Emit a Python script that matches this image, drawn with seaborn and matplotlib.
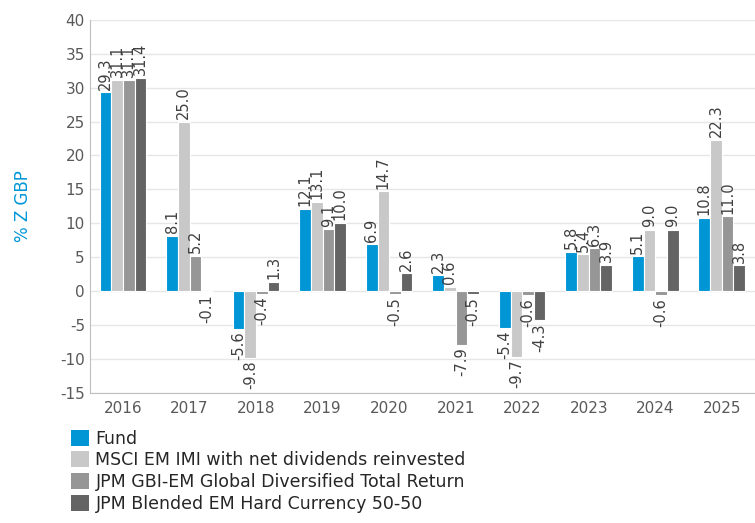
import numpy as np
import pandas as pd
import seaborn as sns
import matplotlib.pyplot as plt
from matplotlib.patches import Patch

years = ["2016", "2017", "2018", "2019", "2020", "2021", "2022", "2023", "2024", "2025"]
series_names = [
    "Fund",
    "MSCI EM IMI with net dividends reinvested",
    "JPM GBI-EM Global Diversified Total Return",
    "JPM Blended EM Hard Currency 50-50",
]
fund = [29.3, 8.1, -5.6, 12.1, 6.9, 2.3, -5.4, 5.8, 5.1, 10.8]
msci = [31.1, 25.0, -9.8, 13.1, 14.7, 0.6, -9.7, 5.4, 9.0, 22.3]
gbi = [31.1, 5.2, -0.4, 9.1, -0.5, -7.9, -0.6, 6.3, -0.6, 11.0]
blended = [31.4, -0.1, 1.3, 10.0, 2.6, -0.5, -4.3, 3.9, 9.0, 3.8]
colors = ["#0096D6", "#C8C8C8", "#969696", "#646464"]

# long form table for seaborn
rows = []
for name, vals in zip(series_names, [fund, msci, gbi, blended]):
    for y, v in zip(years, vals):
        rows.append({"Year": y, "Series": name, "Value": v})
df = pd.DataFrame(rows)

sns.set_style("white")
plt.rcParams['font.family'] = ['DejaVu Sans']
plt.rcParams['axes.unicode_minus'] = False
text_col = "#595959"

fig = plt.figure(figsize=(7.55, 5.23), dpi=100)
ax = fig.add_axes([0.119, 0.249, 0.881, 0.713])

sns.barplot(data=df, x="Year", y="Value", hue="Series", palette=colors,
            width=0.7, ax=ax, legend=False, saturation=1, edgecolor="white", linewidth=0.8)

for cont in ax.containers:
    ax.bar_label(cont, fmt="%.1f", rotation=90, padding=2, fontsize=10.5, color="#404040")

ax.set_ylim(-15, 40)
ax.set_yticks(np.arange(-15, 41, 5))
ax.set_xlim(-0.5, len(years) - 0.5)
ax.yaxis.grid(True, color="#E6E6E6", linewidth=1)
ax.set_axisbelow(True)
for s in ["top", "right"]:
    ax.spines[s].set_visible(False)
ax.spines["left"].set_color("#BFBFBF")
ax.spines["bottom"].set_color("#BFBFBF")
ax.tick_params(axis="both", colors=text_col, labelsize=11, length=0)
ax.tick_params(axis="x", pad=6)
ax.set_xlabel("")
ax.set_ylabel("% Z GBP", color="#0096D6", fontsize=12, labelpad=20)

handles = [Patch(facecolor=c, edgecolor="none") for c in colors]
fig.legend(handles, series_names, loc="upper left", bbox_to_anchor=(0.085, 0.192),
           frameon=False, fontsize=12.5, handlelength=1.05, handleheight=1.05,
           handletextpad=0.35, labelspacing=0.22, borderaxespad=0, labelcolor="#262626")

fig.savefig("out.png", dpi=100)
